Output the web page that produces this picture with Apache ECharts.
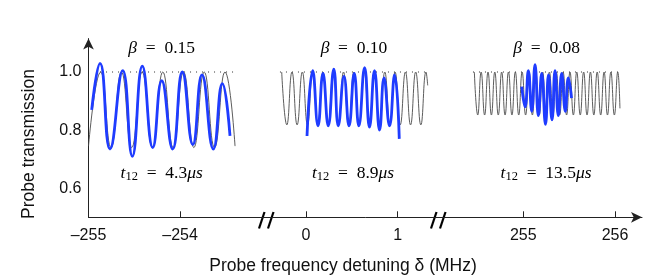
<!DOCTYPE html>
<html>
<head>
<meta charset="utf-8">
<script src="https://cdn.jsdelivr.net/npm/echarts@6.0.0/dist/echarts.min.js"></script>
<style>html,body{margin:0;padding:0;background:#fff}#c{width:654px;height:278px}</style>
</head>
<body>
<div id="c"></div>
<script>
// ---- data ----
const xTicksLeft = [-255, -254];
const xTicksMid = [0, 1];
const xTicksRight = [255, 256];
const yTicks = [0.6, 0.8, 1.0];

const betaLabels = ['0.15', '0.10', '0.08'];
const t12Labels = ['4.3', '8.9', '13.5'];

// panel 1 (around -255 MHz)
const gray1X = [-255.000,-254.867,-254.754,-254.640,-254.528,-254.414,-254.302,-254.188,-254.075,-253.962,-253.849,-253.736,-253.623,-253.509,-253.399];
const gray1Y = [0.745,1.0,0.74,1.0,0.74,1.0,0.74,1.0,0.74,1.0,0.74,1.0,0.74,1.0,0.745];
const blue1X = [-254.965,-254.874,-254.765,-254.626,-254.521,-254.412,-254.298,-254.200,-254.080,-253.975,-253.860,-253.760,-253.636,-253.538,-253.454];
const blue1Y = [0.87,1.03,0.735,1.005,0.71,1.02,0.74,0.97,0.735,1.0,0.75,0.99,0.735,0.96,0.78];
const dot1X = [-254.874, -253.42];

// panel 2 (around 0 MHz)
const gray2X = [-0.265,-0.209,-0.153,-0.097,-0.040,0.016,0.072,0.128,0.185,0.241,0.297,0.353,0.409,0.465,0.522,0.578,0.634,0.690,0.747,0.803,0.859,0.915,0.971,1.027,1.084,1.140,1.196,1.252,1.308,1.327];
const gray2Y = [1.0,0.818,1.0,0.818,1.0,0.818,1.0,0.818,1.0,0.818,1.0,0.818,1.0,0.818,1.0,0.818,1.0,0.818,1.0,0.818,1.0,0.818,1.0,0.818,1.0,0.818,1.0,0.818,1.0,0.954];
const blue2X = [0.011,0.073,0.131,0.185,0.243,0.303,0.352,0.414,0.469,0.526,0.576,0.639,0.692,0.747,0.802,0.851,0.911,0.966,1.017];
const blue2Y = [0.78,1.005,0.815,0.995,0.815,1.01,0.815,0.985,0.815,0.995,0.815,1.015,0.81,1.005,0.80,0.98,0.815,0.99,0.77];
const dot2X = [-0.284, 1.316];

// panel 3 (around 255 MHz)
const gray3X = [254.466,254.503,254.540,254.578,254.615,254.652,254.689,254.727,254.764,254.801,254.838,254.876,254.913,254.950,254.987,255.025,255.062,255.099,255.136,255.174,255.211,255.248,255.285,255.323,255.360,255.397,255.434,255.472,255.509,255.546,255.583,255.621,255.658,255.695,255.732,255.769,255.806,255.844,255.881,255.918,255.955,255.993,256.030,256.054];
const gray3Y = [1.0,0.852,1.0,0.852,1.0,0.852,1.0,0.852,1.0,0.852,1.0,0.852,1.0,0.852,1.0,0.852,1.0,0.852,1.0,0.852,1.0,0.852,1.0,0.852,1.0,0.852,1.0,0.852,1.0,0.852,1.0,0.852,1.0,0.852,1.0,0.852,1.0,0.852,1.0,0.852,1.0,0.852,1.0,0.875];
const blue3X = [254.983,255.019,255.055,255.092,255.128,255.164,255.201,255.242,255.275,255.313,255.346,255.382,255.419,255.458,255.491,255.526];
const blue3Y = [0.95,0.88,1.005,0.865,1.025,0.85,0.995,0.82,0.99,0.835,1.005,0.85,0.995,0.865,0.98,0.91];
const dot3X = [254.451, 256.055];

const refLevel = 1.0;

// ---- chart ----
const zip = (xs, ys) => xs.map((x, i) => [x, ys[i]]);
const GRAY = '#4a4a4a';
const BLUE = '#1f3cff';
const SANS = "'Liberation Sans', Arial, Helvetica, sans-serif";
const SERIF = "'Liberation Serif', 'Times New Roman', serif";
const TOP = 38.6, H = 178.7, YMIN = 0.5, YMAX = 1.115;

const tickFmt = v => (v < 0 ? '\u2013' + Math.abs(v) : String(v));

function panelX(idx, min, max, ticks) {
  return {
    type: 'value', gridIndex: idx, min: min, max: max,
    axisLine: {show: false},
    axisTick: {show: true, inside: true, length: 6, customValues: ticks, lineStyle: {color: '#222', width: 1}},
    axisLabel: {show: true, customValues: ticks, formatter: tickFmt, margin: 10,
      fontFamily: SANS, fontSize: 16, color: '#111'},
    splitLine: {show: false}
  };
}
function hiddenY(idx) {
  return {type: 'value', gridIndex: idx, min: YMIN, max: YMAX, show: false};
}
function panelSeries(idx, gx, gy, bx, by, dx) {
  return [
    {type: 'line', xAxisIndex: idx, yAxisIndex: idx, data: zip(dx, [refLevel, refLevel]),
     showSymbol: false, silent: true, z: 1,
     lineStyle: {color: '#333', width: 1, type: [1, 5]}},
    {type: 'line', xAxisIndex: idx, yAxisIndex: idx, data: zip(gx, gy), smooth: 0.5,
     showSymbol: false, silent: true, z: 2,
     lineStyle: {color: GRAY, width: 0.9}},
    {type: 'line', xAxisIndex: idx, yAxisIndex: idx, data: zip(bx, by), smooth: 0.5,
     showSymbol: false, silent: true, z: 3,
     lineStyle: {color: BLUE, width: 2.8}}
  ];
}

const mathRich = {
  i: {fontFamily: SERIF, fontStyle: 'italic', fontSize: 17.5, color: '#222'},
  n: {fontFamily: SERIF, fontSize: 17.5, color: '#222'},
  sub: {fontFamily: SERIF, fontSize: 12.5, color: '#222', padding: [8, 0, 0, 0]}
};
function betaText(cx, s) {
  return {type: 'text', x: cx, y: 48, style: {
    text: '{i|\u03B2}{n|\u2002=\u2002' + s + '}', rich: mathRich,
    align: 'center', verticalAlign: 'middle'}};
}
function tText(cx, s) {
  return {type: 'text', x: cx, y: 173, style: {
    text: '{i|t}{sub|12}{n|\u2002=\u2002' + s + '}{i|\u03BCs}', rich: mathRich,
    align: 'center', verticalAlign: 'middle'}};
}
function breakMark(cx) {
  const s = {stroke: '#000', lineWidth: 2.2};
  return [
    {type: 'line', shape: {x1: cx - 7.5, y1: 228.5, x2: cx - 2, y2: 212}, style: s},
    {type: 'line', shape: {x1: cx + 1.5, y1: 228.5, x2: cx + 7, y2: 212}, style: s}
  ];
}

const option = {
  animation: false,
  backgroundColor: '#fff',
  grid: [
    {left: 88.5, top: TOP, width: 553.5, height: H},
    {left: 88.5, top: TOP, width: 155.6, height: H},
    {left: 278.5, top: TOP, width: 155.9, height: H},
    {left: 468.3, top: TOP, width: 174.2, height: H}
  ],
  xAxis: [
    {type: 'value', gridIndex: 0, min: 0, max: 1,
     axisLine: {show: true, symbol: ['none', 'arrow'], symbolSize: [8, 11], lineStyle: {color: '#222', width: 1}},
     axisTick: {show: false}, axisLabel: {show: false}, splitLine: {show: false}},
    panelX(1, -255, -253.3, xTicksLeft),
    panelX(2, -0.3, 1.4, xTicksMid),
    panelX(3, 254.4, 256.3, xTicksRight)
  ],
  yAxis: [
    {type: 'value', gridIndex: 0, min: YMIN, max: YMAX,
     axisLine: {show: true, symbol: ['none', 'arrow'], symbolSize: [8, 11], lineStyle: {color: '#222', width: 1}},
     axisTick: {show: false},
     axisLabel: {show: true, customValues: yTicks, formatter: v => v.toFixed(1), margin: 7,
       fontFamily: SANS, fontSize: 16, color: '#111'},
     splitLine: {show: false}},
    hiddenY(1), hiddenY(2), hiddenY(3)
  ],
  series: [].concat(
    panelSeries(1, gray1X, gray1Y, blue1X, blue1Y, dot1X),
    panelSeries(2, gray2X, gray2Y, blue2X, blue2Y, dot2X),
    panelSeries(3, gray3X, gray3Y, blue3X, blue3Y, dot3X)
  ),
  graphic: [].concat(
    breakMark(266.5), breakMark(438.5),
    [
      betaText(161.7, betaLabels[0]), betaText(354, betaLabels[1]), betaText(546.7, betaLabels[2]),
      tText(161.7, t12Labels[0]), tText(353, t12Labels[1]), tText(546, t12Labels[2]),
      {type: 'text', x: 343, y: 266, style: {text: 'Probe frequency detuning \u03B4 (MHz)',
        fontFamily: SANS, fontSize: 17.5, fill: '#111', align: 'center', verticalAlign: 'middle'}},
      {type: 'text', x: 29.5, y: 144, rotation: Math.PI / 2, style: {text: 'Probe transmission',
        fontFamily: SANS, fontSize: 17.5, fill: '#111', align: 'center', verticalAlign: 'middle'}}
    ]
  )
};

const chart = echarts.init(document.getElementById('c'), null, {renderer: 'canvas'});
chart.setOption(option);
</script>
</body>
</html>
